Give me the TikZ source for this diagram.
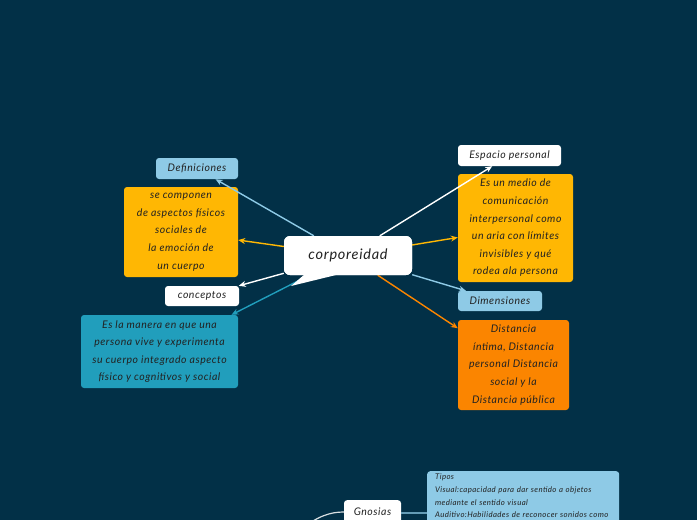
\documentclass[tikz,border=0pt]{standalone}
\usepackage{fontspec}
\setmainfont{Lato}
\newfontfamily\widefont{Lato}[LetterSpace=5]
\usetikzlibrary{arrows.meta}
\definecolor{bgnavy}{HTML}{023047}
\definecolor{lblue}{HTML}{8ECAE6}
\definecolor{teal}{HTML}{219EBC}
\definecolor{amber}{HTML}{FFB703}
\definecolor{dorange}{HTML}{FB8500}
\definecolor{txt}{HTML}{222222}
\tikzset{
  box/.style={rounded corners=3pt, inner sep=2pt, align=center, text=txt,
    font=\widefont\fontsize{10.5}{17.6}\selectfont\itshape},
  conn/.style={line width=1.4pt, -{Stealth[length=7pt,width=6pt]}},
}
\begin{document}
\begin{tikzpicture}[x=1pt,y=-1pt]
\fill[bgnavy] (0,0) rectangle (697,520);
\useasboundingbox (0,0) rectangle (697,520);
\begin{scope}
\clip (0,0) rectangle (697,520);
% left side
\node[box, fill=lblue, minimum width=82pt, minimum height=21pt] (def) at (197,168.5) {Definiciones};
\node[box, fill=amber, minimum width=114pt, minimum height=90pt] (secomp) at (181,232) {se componen\\de aspectos físicos\\sociales de\\la emoción de\\un cuerpo};
\node[box, fill=white, minimum width=74pt, minimum height=20pt] (concep) at (202,296) {conceptos};
\node[box, fill=teal, minimum width=157pt, minimum height=73pt] (esla) at (159.5,351.5) {Es la manera en que una\\persona vive y experimenta\\su cuerpo integrado aspecto\\físico y cognitivos y social};
% right side
\node[box, fill=white, minimum width=103pt, minimum height=21pt] (espacio) at (509.5,155.5) {Espacio personal};
\node[box, fill=amber, minimum width=115pt, minimum height=108pt] (esun) at (515.5,228) {Es un medio de\\comunicación\\interpersonal como\\un aria con límites\\invisibles y qué\\rodea ala persona};
\node[box, fill=lblue, minimum width=84pt, minimum height=20pt] (dimens) at (500,301) {Dimensiones};
\node[box, fill=dorange, minimum width=111pt, minimum height=90pt] (dist) at (513.5,365) {Distancia\\íntima, Distancia\\personal Distancia\\social y la\\Distancia pública};
% bottom
\node[box, fill=lblue, minimum width=192pt, minimum height=100pt, anchor=north west] (tipos) at (427,471) {};
\node[anchor=north west, text width=188pt, align=left, text=txt, inner sep=0pt,
  font=\widefont\fontsize{7.8}{12.7}\selectfont\itshape] (tiposText) at (435,474) {Tipos\\Visual:capacidad para dar sentido a objetos\\mediante el sentido visual\\Auditivo:Habilidades de reconocer sonidos como};
\node[box, fill=white, minimum width=57pt, minimum height=26pt, anchor=north] (gnos) at (372.5,500) {};
\node[text=txt, font=\widefont\fontsize{10.5}{12}\selectfont\itshape, anchor=base] (gnosText) at (372.5,515.5) {Gnosias};
\coordinate (gfree) at (300,530);
\draw[white!85!bgnavy, line width=1.2pt] (gnos.west |- 0,512) .. controls (330,512) and (318,516) .. (gfree);
\draw[lblue!70!bgnavy, line width=1.2pt] (gnos.east |- 0,513) -- (tipos.west |- 0,513);
% central callout
\coordinate (tailA) at (305,274);
\coordinate (tailB) at (340,274);
\coordinate (tailTip) at (291,286);
\node[box, fill=white, minimum width=128pt, minimum height=39pt, rounded corners=6pt,
  font=\widefont\fontsize{14.5}{16}\selectfont\itshape] (corp) at (348,255.5) {corporeidad};
% connectors
\draw[conn, lblue] (corp) -- (def);
\draw[conn, amber] (corp) -- (secomp);
\draw[conn, white] (corp) -- (concep);
\draw[conn, teal] (corp) -- (esla);
\draw[conn, white] (corp) -- (espacio);
\draw[conn, amber] (corp) -- (esun);
\draw[conn, lblue] (corp) -- (dimens);
\draw[conn, dorange] (corp) -- (dist);
% redraw callout on top
\node[box, fill=white, minimum width=128pt, minimum height=39pt, rounded corners=6pt,
  font=\widefont\fontsize{14.5}{16}\selectfont\itshape] (corpTop) at (348,255.5) {corporeidad};
\fill[white] (tailA) -- (tailB) -- (tailTip) -- cycle;
\end{scope}
\end{tikzpicture}
\end{document}
